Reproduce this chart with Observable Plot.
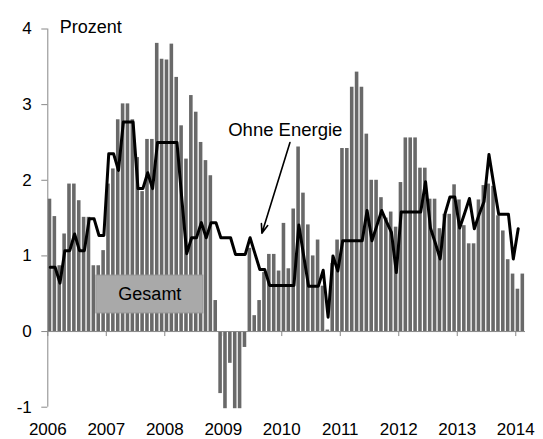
<!DOCTYPE html>
<html><head><meta charset="utf-8">
<script src="https://cdn.jsdelivr.net/npm/d3@7"></script>
<script src="https://cdn.jsdelivr.net/npm/@observablehq/plot@0.6"></script>
<style>body{margin:0;background:#fff} #chart{width:543px;height:439px}</style>
</head><body><div id="chart"></div>
<script>
// Monthly values, starting January 2006
const startYear = 2006;
const gesamt = [
  1.75, 1.52, 0.87, 1.29, 1.95, 1.95, 1.73, 1.51, 1.51, 0.87, 0.87, 1.07, // 2006
  1.95, 2.15, 2.80, 3.01, 3.01, 2.80, 2.30, 1.85, 2.54, 2.54, 3.81, 3.60, // 2007
  3.59, 3.80, 3.36, 2.72, 2.28, 3.12, 2.90, 2.50, 2.26, 2.06, 0.41, -0.82, // 2008
  -1.02, -0.42, -1.02, -1.02, -0.21, 1.10, 0.21, 0.41, 0.78, 1.02, 1.02, 0.80, // 2009
  1.43, 0.83, 1.62, 2.44, 1.83, 1.41, 1.00, 1.21, 0.60, 0.02, 0.90, 1.21, // 2010
  2.42, 2.42, 3.23, 3.43, 3.23, 2.61, 2.00, 2.00, 1.77, 1.50, 1.58, 1.38, // 2011
  1.97, 2.56, 2.56, 2.56, 2.16, 2.16, 1.75, 1.75, 1.36, 1.55, 1.55, 1.94, // 2012
  1.74, 1.40, 1.16, 1.16, 1.74, 1.93, 1.95, 1.92, 1.53, 1.33, 0.95, 0.76, // 2013
  0.56, 0.76 // 2014
];
const ohneEnergie = [
  0.85, 0.85, 0.64, 1.07, 1.07, 1.29, 1.07, 1.07, 1.49, 1.49, 1.27, 1.27, // 2006
  2.35, 2.35, 2.13, 2.77, 2.77, 2.77, 1.89, 1.89, 2.10, 1.89, 2.50, 2.50, // 2007
  2.50, 2.50, 2.50, 1.75, 1.03, 1.24, 1.24, 1.44, 1.24, 1.44, 1.44, 1.24, // 2008
  1.24, 1.24, 1.02, 1.02, 1.02, 1.24, 1.03, 0.82, 0.82, 0.61, 0.61, 0.61, // 2009
  0.61, 0.61, 0.61, 1.41, 1.00, 0.60, 0.60, 0.60, 0.81, 0.19, 1.00, 0.80, // 2010
  1.20, 1.20, 1.20, 1.20, 1.20, 1.60, 1.20, 1.40, 1.60, 1.45, 1.31, 0.78, // 2011
  1.58, 1.58, 1.58, 1.58, 1.58, 1.98, 1.37, 1.17, 0.96, 1.56, 1.78, 1.78, // 2012
  1.37, 1.56, 1.76, 1.36, 1.55, 1.72, 2.34, 1.94, 1.55, 1.55, 1.55, 0.96, // 2013
  1.36 // 2014
];
const yearTicks = [2006, 2007, 2008, 2009, 2010, 2011, 2012, 2013, 2014];
const yTicks = [-1, 0, 1, 2, 3, 4];
const unitLabel = "Prozent";
const gesamtLabel = "Gesamt";
const ohneLabel = "Ohne Energie";

const monthX = i => startYear + i / 12;
const bars = gesamt.map((v, i) => ({x1: monthX(i), x2: monthX(i + 1), v}));
const linePts = ohneEnergie.map((v, i) => ({x: monthX(i + 0.5), v}));
const xEnd = monthX(gesamt.length);

// annotation anchors (data units)
const gesamtBox = {x1: 2006.83, x2: 2008.66, y1: 0.24, y2: 0.74};
const ohneText = {x: 2010.06, y: 2.66};
const ohneArrow = {x1: 2010.14, y1: 2.50, x2: 2009.66, y2: 1.30};

const font = "'Liberation Sans', Arial, Helvetica, sans-serif";
const gray = "#888888";

const chart = Plot.plot({
  width: 543,
  height: 439,
  marginLeft: 47.3,
  marginRight: 18,
  marginTop: 28.5,
  marginBottom: 32.3,
  style: {fontFamily: font, fontSize: "17px", background: "white", color: "black"},
  x: {domain: [startYear, xEnd]},
  y: {domain: [-1, 4]},
  marks: [
    Plot.rectY(bars, {x1: "x1", x2: "x2", y: "v", fill: "#696969", insetLeft: 0.4, insetRight: 0.9}),
    Plot.ruleY([0], {stroke: gray}),
    Plot.ruleX(yearTicks, {x: d => d, y1: 0, y2: 0, insetBottom: -5, stroke: gray}),
    Plot.ruleX([startYear], {y1: -1, y2: 4, stroke: gray}),
    Plot.axisY({ticks: yTicks, tickSize: 6, tickPadding: 10, stroke: gray, fill: "black", fontSize: 17, label: null, tickFormat: d => String(d)}),
    Plot.axisX({ticks: yearTicks, tickSize: 0, tickPadding: 16, fontSize: 17, label: null, tickFormat: d => String(d)}),
    Plot.line(linePts, {x: "x", y: "v", stroke: "black", strokeWidth: 3}),
    Plot.rect([gesamtBox], {x1: "x1", x2: "x2", y1: "y1", y2: "y2", fill: "#a9a9a9", stroke: "#9a9a9a"}),
    Plot.text([gesamtLabel], {x: (gesamtBox.x1 + gesamtBox.x2) / 2, y: (gesamtBox.y1 + gesamtBox.y2) / 2, text: d => d, fontSize: 18, fill: "black"}),
    Plot.text([ohneLabel], {x: ohneText.x, y: ohneText.y, text: d => d, fontSize: 18.5, fill: "black"}),
    Plot.arrow([ohneArrow], {x1: "x1", y1: "y1", x2: "x2", y2: "y2", stroke: "black", strokeWidth: 1.6, headLength: 9, headAngle: 40}),
    Plot.text([unitLabel], {frameAnchor: "top-left", dx: 12, dy: -9, text: d => d, textAnchor: "start", fontSize: 18, fill: "black"})
  ]
});
document.getElementById("chart").appendChild(chart);
</script>
</body></html>
